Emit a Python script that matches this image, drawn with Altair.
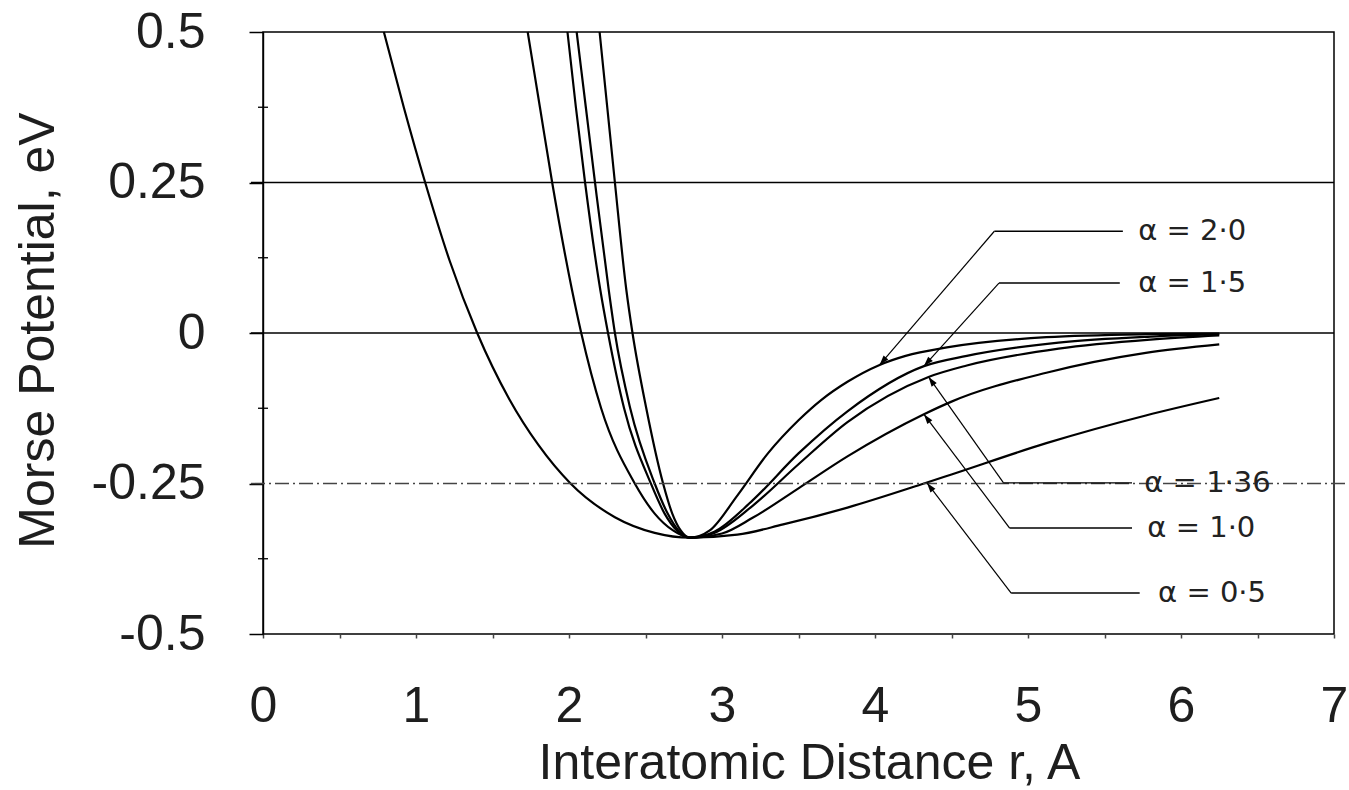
import math
import altair as alt
import pandas as pd

# ---------------- data ----------------
series_names = ["α = 0·5", "α = 1·0", "α = 1·36", "α = 1·5", "α = 2·0"]

r_a05 = [0.79, 0.92, 1.06, 1.22, 1.40, 1.61, 1.80, 2.01, 2.30, 2.56, 2.79, 3.10, 3.40, 3.82, 4.32, 4.50, 5.12, 5.77, 6.25]
v_a05 = [0.50, 0.375, 0.25, 0.12, 0.00, -0.11, -0.186, -0.25, -0.306, -0.332, -0.340, -0.335, -0.318, -0.290, -0.250, -0.235, -0.183, -0.137, -0.108]

r_a10 = [1.73, 1.81, 1.89, 2.02, 2.08, 2.21, 2.43, 2.56, 2.68, 2.79, 3.00, 3.20, 3.50, 3.82, 4.32, 4.50, 5.12, 5.77, 6.25]
v_a10 = [0.50, 0.375, 0.25, 0.071, 0.00, -0.125, -0.25, -0.300, -0.328, -0.340, -0.333, -0.307, -0.258, -0.205, -0.135, -0.114, -0.066, -0.033, -0.019]

r_a136 = [1.99, 2.045, 2.105, 2.205, 2.255, 2.36, 2.535, 2.625, 2.705, 2.79, 2.95, 3.20, 3.50, 3.82, 4.35, 4.60, 5.20, 5.80, 6.25]
v_a136 = [0.50, 0.375, 0.25, 0.071, 0.00, -0.125, -0.25, -0.300, -0.328, -0.340, -0.332, -0.287, -0.218, -0.148, -0.073, -0.054, -0.026, -0.011, -0.004]

r_a15 = [2.05, 2.11, 2.17, 2.26, 2.30, 2.40, 2.56, 2.645, 2.715, 2.79, 2.95, 3.20, 3.50, 3.82, 4.32, 4.60, 5.20, 5.80, 6.25]
v_a15 = [0.50, 0.375, 0.25, 0.071, 0.00, -0.125, -0.25, -0.300, -0.328, -0.340, -0.330, -0.278, -0.200, -0.130, -0.055, -0.038, -0.016, -0.006, -0.002]

r_a20 = [2.20, 2.25, 2.30, 2.375, 2.415, 2.505, 2.615, 2.675, 2.73, 2.79, 2.92, 3.10, 3.30, 3.50, 3.65, 3.82, 4.03, 4.20, 4.47, 5.12, 5.77, 6.25]
v_a20 = [0.50, 0.375, 0.25, 0.071, 0.00, -0.125, -0.25, -0.300, -0.328, -0.340, -0.328, -0.270, -0.200, -0.145, -0.111, -0.081, -0.053, -0.038, -0.024, -0.007, -0.002, -0.001]

# annotation labels with leader lines
ann_text = ["α = 2·0", "α = 1·5", "α = 1·36", "α = 1·0", "α = 0·5"]
ann_corner_r = [4.78, 4.81, 4.84, 4.88, 4.89]
ann_corner_v = [0.169, 0.083, -0.249, -0.324, -0.432]
ann_end_r = [5.62, 5.60, 5.68, 5.68, 5.73]
ann_tip_r = [4.03, 4.32, 4.35, 4.32, 4.34]
ann_tip_v = [-0.053, -0.055, -0.073, -0.135, -0.249]
ann_text_r = [5.72, 5.72, 5.76, 5.78, 5.85]

x_ticks = [i * 0.5 for i in range(15)]
y_major = [0.5, 0.25, 0.0, -0.25, -0.5]
y_minor = [0.375, 0.125, -0.125, -0.375]
grid_solid = [0.25, 0.0]
grid_dashed = [-0.25]

# ---------------- layout ----------------
W, H = 1071, 602
LEFT, TOP = 263, 32
X_DOM, Y_DOM = [0, 7], [-0.5, 0.5]
PX_X = W / (X_DOM[1] - X_DOM[0])
PX_Y = H / (Y_DOM[1] - Y_DOM[0])

rows = []
for name, rr, vv in zip(series_names, [r_a05, r_a10, r_a136, r_a15, r_a20],
                        [v_a05, v_a10, v_a136, v_a15, v_a20]):
    for r, v in zip(rr, vv):
        rows.append({"alpha": name, "r": r, "V": v})
curves_df = pd.DataFrame(rows)

ann_rows = []
for t, cr, cv, er, tr, tv, xr in zip(ann_text, ann_corner_r, ann_corner_v, ann_end_r,
                                      ann_tip_r, ann_tip_v, ann_text_r):
    dx = (tr - cr) * PX_X
    dy = -(tv - cv) * PX_Y
    ang = math.degrees(math.atan2(dx, -dy)) % 360
    ann_rows.append({"text": t, "cr": cr, "cv": cv, "er": er, "tr": tr, "tv": tv,
                     "xr": xr, "ang": ang})
ann_df = pd.DataFrame(ann_rows)

FONT = "Liberation Sans"
TXT = "#1e1e1e"

xs = alt.Scale(domain=X_DOM, nice=False, zero=False)
ys = alt.Scale(domain=Y_DOM, nice=False, zero=False)

x_axis = alt.Axis(
    values=x_ticks,
    labelExpr="datum.value % 1 == 0 ? '' + datum.value : ''",
    grid=False, domain=False,
    tickSize=4, tickWidth=1.5, tickColor="#444",
    labelFont=FONT, labelFontSize=50, labelColor=TXT, labelPadding=43,
    labelFlush=False, labelOverlap=False,
    title="Interatomic Distance r, A",
    titleFont=FONT, titleFontSize=50, titleFontWeight="normal", titleColor=TXT,
    titleX=546, titleY=144, titleBaseline="alphabetic", titleAlign="center",
)
y_axis = alt.Axis(
    values=y_major,
    labelExpr="'' + datum.value",
    grid=False, domain=True, domainColor="black", domainWidth=1.4,
    tickSize=14, tickWidth=1.5, tickColor="black",
    labelFont=FONT, labelFontSize=50, labelColor=TXT, labelPadding=44,
    labelOverlap=False, labelBaseline="middle",
    title="Morse Potential, eV",
    titleFont=FONT, titleFontSize=50, titleFontWeight="normal", titleColor=TXT,
    titleX=-210, titleY=298, titleAngle=270, titleBaseline="alphabetic",
    titleAlign="center",
)


def X(field):
    return alt.X(field, type="quantitative", scale=xs, axis=x_axis)


def Y(field):
    return alt.Y(field, type="quantitative", scale=ys, axis=y_axis)


curves = alt.Chart(curves_df).mark_line(
    color="black", strokeWidth=2.2, interpolate="monotone"
).encode(x=X("r"), y=Y("V"), detail="alpha:N")

solid_grid = alt.Chart(pd.DataFrame({"g": grid_solid})).mark_rule(
    color="black", strokeWidth=1.5
).encode(y=Y("g"), x=alt.value(-12), x2=alt.value(W))

dash_grid = alt.Chart(pd.DataFrame({"g": grid_dashed})).mark_rule(
    color="#444", strokeWidth=1.4, strokeDash=[14, 4, 2, 4]
).encode(y=Y("g"), x=alt.value(-12), x2=alt.value(W + 14))

minor = alt.Chart(pd.DataFrame({"m": y_minor})).mark_rule(
    color="black", strokeWidth=1.3
).encode(y=Y("m"), x=alt.value(-5), x2=alt.value(5))

ann_base = alt.Chart(ann_df)
lead_h = ann_base.mark_rule(color="black", strokeWidth=1.4).encode(
    x=X("cr"), x2="er:Q", y=Y("cv"), y2="cv:Q",
)
lead_d = ann_base.mark_rule(color="black", strokeWidth=1.2).encode(
    x=X("cr"), x2="tr:Q", y=Y("cv"), y2="tv:Q",
)
heads = ann_base.mark_point(
    shape="M0,0L-0.32,1L0.32,1Z", filled=True, color="black", opacity=1, size=380
).encode(
    x=X("tr"), y=Y("tv"), angle=alt.Angle("ang:Q", scale=None),
)
labels = ann_base.mark_text(
    align="left", baseline="middle", font="DejaVu Sans", fontSize=29, color="#222"
).encode(
    x=X("xr"), y=Y("cv"), text="text:N",
)

chart = alt.layer(
    curves, solid_grid, dash_grid, minor, lead_h, lead_d, heads, labels
).properties(
    width=W, height=H,
    autosize=alt.AutoSizeParams(type="none"),
    padding={"left": LEFT, "top": TOP, "right": 1349 - LEFT - W, "bottom": 790 - TOP - H},
    background="white",
).configure_view(stroke="black", strokeWidth=1.5)

chart.save("out.html", embed_options={"renderer": "svg", "actions": False})
